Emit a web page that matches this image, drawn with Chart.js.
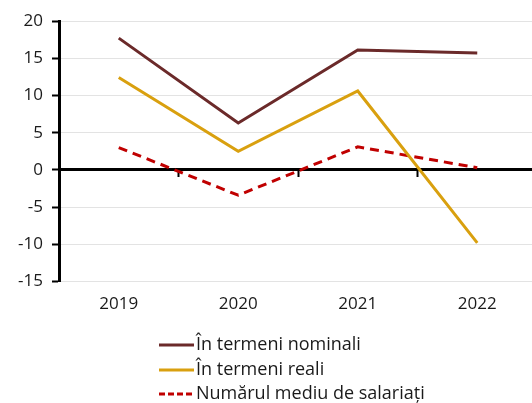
<!DOCTYPE html>
<html><head><meta charset="utf-8">
<script src="https://cdn.jsdelivr.net/npm/chart.js@4/dist/chart.umd.min.js"></script>
<style>html,body{margin:0;padding:0;background:#fff;overflow:hidden}#wrap{position:relative;width:532px;height:403px;overflow:hidden}</style>
</head><body><div id="wrap"><canvas id="c" width="537" height="403"></canvas></div>
<script>
const categories = ["2019", "2020", "2021", "2022"];
const nominal = [17.7, 6.3, 16.1, 15.7];
const real = [12.4, 2.5, 10.6, -9.8];
const employees = [3.0, -3.4, 3.1, 0.3];
const seriesNames = ["În termeni nominali", "În termeni reali", "Numărul mediu de salariați"];
const yTicks = [20, 15, 10, 5, 0, -5, -10, -15];

const FONT = "'Open Sans', sans-serif";

const legendPlugin = {
  id: 'vlegend',
  afterDraw(chart) {
    const ctx = chart.ctx;
    const x0 = 159, lineLen = 35, rowY = [345, 370, 394];
    ctx.save();
    chart.data.datasets.forEach((ds, i) => {
      const y = rowY[i];
      ctx.beginPath();
      ctx.strokeStyle = ds.borderColor;
      ctx.lineWidth = 3;
      ctx.setLineDash(ds.borderDash ? [6, 3] : []);
      ctx.moveTo(x0, y);
      ctx.lineTo(x0 + lineLen, y);
      ctx.stroke();
      ctx.setLineDash([]);
      ctx.fillStyle = '#1a1a1a';
      ctx.font = "18px " + FONT;
      ctx.textBaseline = 'middle';
      ctx.textAlign = 'left';
      ctx.fillText(ds.label, x0 + lineLen + 2, y);
    });
    ctx.restore();
  }
};

new Chart(document.getElementById('c'), {
  type: 'line',
  data: {
    labels: categories,
    datasets: [
      { label: seriesNames[0], data: nominal, borderColor: '#6B2A2A', borderWidth: 3, pointRadius: 0, tension: 0, xAxisID: 'x' },
      { label: seriesNames[1], data: real, borderColor: '#D9A00F', borderWidth: 3, pointRadius: 0, tension: 0, xAxisID: 'x' },
      { label: seriesNames[2], data: employees, borderColor: '#C00000', borderWidth: 3, borderDash: [9, 6], pointRadius: 0, tension: 0, xAxisID: 'x' }
    ]
  },
  options: {
    responsive: false,
    animation: false,
    devicePixelRatio: 1,
    layout: { padding: { left: 0, right: 0, top: 21, bottom: 77 } },
    plugins: { legend: { display: false }, tooltip: { enabled: false } },
    scales: {
      x: {
        type: 'category',
        position: { y: 0 },
        offset: true,
        border: { display: true, color: '#000', width: 3 },
        grid: { offset: true, drawOnChartArea: false, drawTicks: true, tickLength: 6, tickColor: '#000', tickWidth: 2 },
        ticks: { display: false }
      },
      x2: {
        type: 'category',
        labels: categories,
        position: 'bottom',
        offset: true,
        border: { display: false },
        grid: { display: false, drawTicks: false },
        ticks: { color: '#1a1a1a', font: { family: FONT, size: 17 }, padding: 12 }
      },
      y: {
        min: -15, max: 20,
        afterBuildTicks(s) { s.ticks = yTicks.map(v => ({ value: v })); },
        afterFit(s) { s.width = 59; },
        border: { display: true, color: '#000', width: 3 },
        grid: { color: '#e3e3e3', lineWidth: 1, drawTicks: true, tickLength: 7, tickColor: '#000', tickWidth: 2 },
        ticks: { color: '#1a1a1a', font: { family: FONT, size: 17 }, padding: 9 }
      }
    }
  },
  plugins: [legendPlugin]
});
</script></body></html>
